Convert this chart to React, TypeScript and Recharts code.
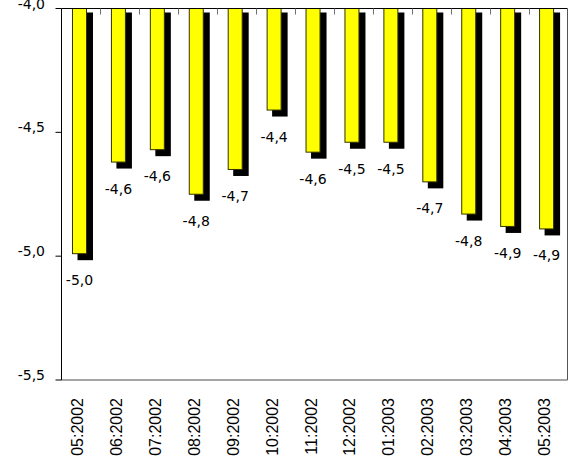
import { Bar, BarChart, LabelList, XAxis, YAxis } from "recharts";

const MONTHS = [
  "05:2002",
  "06:2002",
  "07:2002",
  "08:2002",
  "09:2002",
  "10:2002",
  "11:2002",
  "12:2002",
  "01:2003",
  "02:2003",
  "03:2003",
  "04:2003",
  "05:2003",
];
const VALUES = [
  -4.99, -4.62, -4.57, -4.75, -4.65, -4.41, -4.58, -4.54, -4.54, -4.7, -4.83,
  -4.88, -4.89,
];
const VALUE_LABELS = [
  "-5,0", "-4,6", "-4,6", "-4,8", "-4,7", "-4,4", "-4,6", "-4,5", "-4,5",
  "-4,7", "-4,8", "-4,9", "-4,9",
];
const Y_TICKS = [-5.5, -5, -4.5, -4];

const data = MONTHS.map((month, i) => ({
  month,
  value: VALUES[i],
  label: VALUE_LABELS[i],
}));

const LABEL_FONT = "'DejaVu Sans', Verdana, sans-serif";

// bars hang down from -4,0, recharts hands us a negative height
function norm(y: number, height: number) {
  return height < 0 ? { top: y + height, h: -height } : { top: y, h: height };
}

function ShadowBar(props: any) {
  const { x, y, width, height } = props;
  const { top, h } = norm(y, height);
  const bx = x - 1;
  return (
    <g>
      <rect x={bx + 5} y={top + 4} width={width + 1.5} height={h + 2.5} fill="#000" />
      <rect
        x={bx}
        y={top}
        width={width}
        height={h}
        fill="#ffff00"
        stroke="#333300"
        strokeWidth={1}
      />
    </g>
  );
}

function BarValue(props: any) {
  const { x, y, width, height, value } = props;
  const { top, h } = norm(y, height);
  return (
    <text
      x={x + width / 2 - 1}
      y={top + h + 26.5}
      textAnchor="middle"
      dominantBaseline="central"
      fontFamily={LABEL_FONT}
      fontSize={14}
      fill="#000"
    >
      {value}
    </text>
  );
}

function MonthTick({ x, y, payload }: any) {
  const tx = x + 2;
  const ty = y + 10;
  return (
    <text
      x={tx}
      y={ty}
      transform={`rotate(-90 ${tx} ${ty})`}
      textAnchor="end"
      fontFamily="'Liberation Sans', Arial, sans-serif"
      fontSize={16}
      fill="#000"
    >
      {payload.value}
    </text>
  );
}

// short marks between the month slots, hanging from the top axis
// (recharts puts the tick anchor 6px below the mirrored axis line)
function GapTick({ x, y, payload, index }: any) {
  if (!index) return null;
  const gx = Math.round(x - (payload.offset ?? 0)) + 0.5;
  return <line x1={gx} x2={gx} y1={y - 6} y2={y} stroke="#707070" />;
}

function ValueTick({ y, payload }: any) {
  return (
    <text
      x={45}
      y={y - 5.5}
      textAnchor="end"
      dominantBaseline="central"
      fontFamily={LABEL_FONT}
      fontSize={14}
      fill="#000"
    >
      {String(payload.value.toFixed(1)).replace(".", ",")}
    </text>
  );
}

export default function App() {
  return (
    <div style={{ position: "absolute", left: 0, top: 0, background: "#fff" }}>
      <BarChart
        width={568}
        height={470}
        data={data}
        margin={{ top: 8.5, right: 0, bottom: 0, left: 0 }}
        barSize={14}
      >
        <XAxis
          xAxisId="cat"
          dataKey="month"
          orientation="bottom"
          height={90}
          interval={0}
          tickLine={false}
          axisLine={{ stroke: "#888888", strokeWidth: 1.5 }}
          tick={<MonthTick />}
        />
        <XAxis
          xAxisId="top"
          dataKey="month"
          orientation="top"
          mirror
          height={1}
          interval={0}
          tickLine={false}
          tickSize={6}
          tickMargin={0}
          tick={<GapTick />}
          axisLine={{ stroke: "#000" }}
        />
        <YAxis
          yAxisId="v"
          width={61.5}
          domain={[-5.5, -4]}
          ticks={Y_TICKS}
          allowDataOverflow
          tickSize={6}
          tickLine={{ stroke: "#000" }}
          axisLine={{ stroke: "#000" }}
          tick={<ValueTick />}
        />
        {/* right-hand frame line */}
        <YAxis
          yAxisId="edge"
          orientation="right"
          type="number"
          width={0.5}
          domain={[-5.5, -4]}
          allowDataOverflow
          tick={false}
          tickLine={false}
          axisLine={{ stroke: "#555555" }}
        />
        <Bar
          xAxisId="cat"
          yAxisId="v"
          dataKey="value"
          shape={<ShadowBar />}
          isAnimationActive={false}
        >
          <LabelList dataKey="label" content={<BarValue />} />
        </Bar>
      </BarChart>
    </div>
  );
}
